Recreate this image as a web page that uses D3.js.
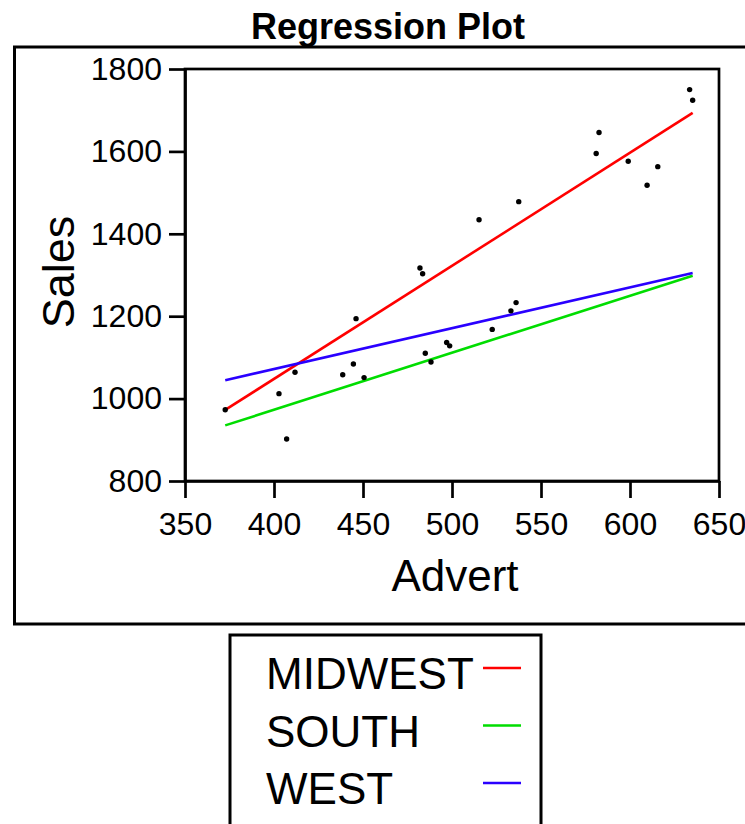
<!DOCTYPE html>
<html>
<head>
<meta charset="utf-8">
<script src="https://cdn.jsdelivr.net/npm/d3@7"></script>
<style>
  body { margin: 0; background: #fff; }
  svg { display: block; font-family: "Liberation Sans", Arial, sans-serif; }
</style>
</head>
<body>
<svg id="chart" width="745" height="824"></svg>
<script>
const advert = [372.6, 402.8, 407.1, 411.8, 438.6, 444.6, 446.1, 450.6, 482, 483.5, 485, 488.2,
  497, 498.7, 515.2, 522.6, 533.1, 536, 537.5, 581, 582.6, 599, 609.6, 615.6, 633.5, 635.2];
const sales = [973, 1012, 902, 1064, 1058, 1084, 1194, 1051, 1317, 1303, 1110, 1089,
  1136, 1128, 1434, 1168, 1213, 1233, 1478, 1595, 1646, 1576, 1518, 1563, 1750, 1724];

// Fitted lines per region
const regions = ["MIDWEST", "SOUTH", "WEST"];
const intercepts = [-50.7, 419.7, 675.8];
const slopes = [2.746, 1.383, 0.990];
const colors = ["#ff0000", "#00dd00", "#2a00ff"];

const xTicks = [350, 400, 450, 500, 550, 600, 650];
const yTicks = [800, 1000, 1200, 1400, 1600, 1800];

const svg = d3.select("#chart");

// Title and outer frame
svg.append("text")
    .attr("x", 388).attr("y", 39)
    .attr("text-anchor", "middle")
    .attr("font-weight", "bold")
    .attr("font-size", 36)
    .text("Regression Plot");

svg.append("rect")
    .attr("x", 14.5).attr("y", 47)
    .attr("width", 760).attr("height", 577)
    .attr("fill", "none").attr("stroke", "#000").attr("stroke-width", 3);

// Plot area
const plotL = 185, plotR = 719, plotT = 69, plotB = 481;

const x = d3.scaleLinear().domain([350, 650]).range([plotL, plotR]);
const y = d3.scaleLinear().domain([800, 1800]).range([plotB, plotT]);

svg.append("rect")
    .attr("x", plotL).attr("y", plotT)
    .attr("width", plotR - plotL).attr("height", plotB - plotT)
    .attr("fill", "none").attr("stroke", "#000").attr("stroke-width", 2.7);

const xAxis = svg.append("g")
    .attr("transform", `translate(0, ${plotB})`)
    .call(d3.axisBottom(x).tickValues(xTicks).tickFormat(d3.format("d"))
        .tickSize(17).tickPadding(14).tickSizeOuter(0));

const yAxis = svg.append("g")
    .attr("transform", `translate(${plotL}, 0)`)
    .call(d3.axisLeft(y).tickValues(yTicks).tickFormat(d3.format("d"))
        .tickSize(16).tickPadding(7).tickSizeOuter(0));

[xAxis, yAxis].forEach(g => {
    g.select(".domain").attr("stroke-width", 2.7);
    g.selectAll(".tick line").attr("stroke-width", 2.7);
    g.selectAll(".tick text")
        .attr("font-size", 32)
        .attr("font-family", "Liberation Sans, Arial, sans-serif")
        .attr("fill", "#000");
});

// Axis titles
svg.append("text")
    .attr("x", 455).attr("y", 591)
    .attr("text-anchor", "middle")
    .attr("font-size", 44)
    .text("Advert");

svg.append("text")
    .attr("transform", "translate(74, 272) rotate(-90)")
    .attr("text-anchor", "middle")
    .attr("font-size", 45)
    .text("Sales");

// Regression lines
const xExt = d3.extent(advert);
svg.selectAll(".fit")
    .data(regions)
    .enter()
    .append("line")
    .attr("class", "fit")
    .attr("x1", x(xExt[0]))
    .attr("x2", x(xExt[1]))
    .attr("y1", (d, i) => y(intercepts[i] + slopes[i] * xExt[0]))
    .attr("y2", (d, i) => y(intercepts[i] + slopes[i] * xExt[1]))
    .attr("stroke", (d, i) => colors[i])
    .attr("stroke-width", 2.6);

// Points
svg.selectAll(".pt")
    .data(advert)
    .enter()
    .append("circle")
    .attr("class", "pt")
    .attr("cx", d => x(d))
    .attr("cy", (d, i) => y(sales[i]))
    .attr("r", 2.7)
    .attr("fill", "#000");

// Legend
svg.append("rect")
    .attr("x", 230).attr("y", 635)
    .attr("width", 311).attr("height", 220)
    .attr("fill", "none").attr("stroke", "#000").attr("stroke-width", 3);

const legend = svg.selectAll(".leg")
    .data(regions)
    .enter()
    .append("g")
    .attr("class", "leg")
    .attr("transform", (d, i) => `translate(0, ${689 + i * 57.5})`);

legend.append("text")
    .attr("x", 266)
    .attr("font-size", 44)
    .text(d => d);

legend.append("line")
    .attr("x1", 483).attr("x2", 521)
    .attr("y1", -21).attr("y2", -21)
    .attr("stroke", (d, i) => colors[i])
    .attr("stroke-width", 2.5);
</script>
</body>
</html>
